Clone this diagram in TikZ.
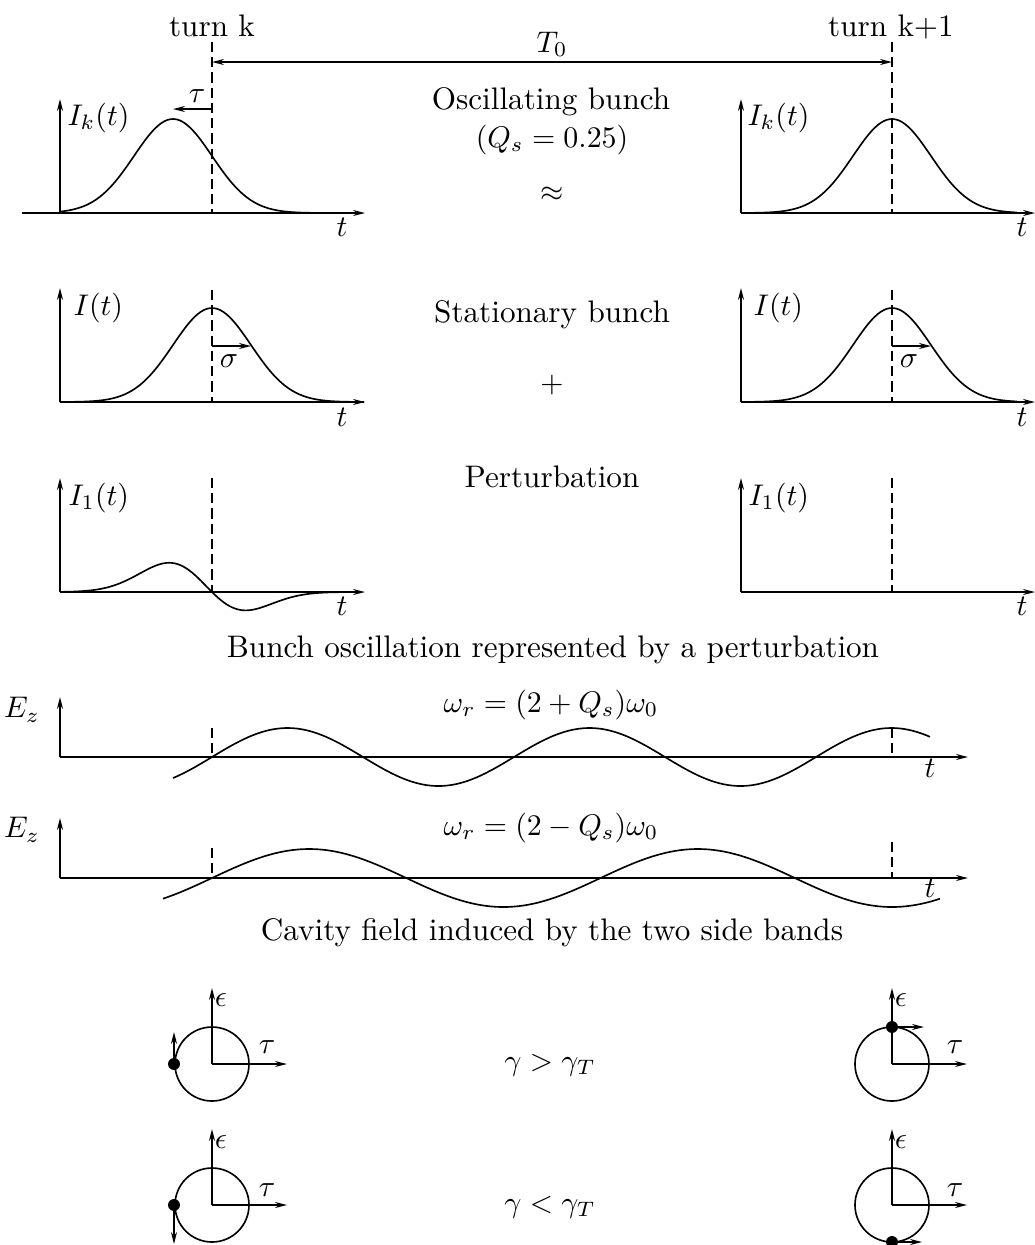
\documentclass[tikz,border=0pt]{standalone}
\usetikzlibrary{arrows.meta}
\begin{document}
\begin{tikzpicture}[x=0.335pt,y=-0.335pt,
  font=\fontsize{10.44}{12.5}\selectfont,
  >={Stealth[open,length=4pt,width=2pt]},
  axis/.style={line width=0.55pt,->},
  curve/.style={line width=0.55pt},
  guide/.style={line width=0.5pt,dash pattern=on 3.4pt off 1.7pt},
  lbl/.style={inner sep=0pt},
  westlbl/.style={inner sep=0pt,anchor=west},
  dot/.style={fill=black}]
\useasboundingbox (0,0) rectangle (1035,1245);

% ---------- titles row 1
\node[lbl,anchor=base] (turnk) at (212,36) {turn k};
\node[lbl,anchor=base] (turnk1) at (891,36) {turn k+1};
\coordinate (Ta) at (212,62);
\coordinate (Tb) at (892,62);
\draw[line width=0.5pt,<->] (Ta) -- (Tb);
\node[lbl,anchor=base] (T0) at (552,52) {$T_0$};
\node[lbl,anchor=base] (osc) at (551,109) {Oscillating bunch};
\node[lbl] (qs) at (552,140) {$(Q_s=0.25)$};
\node[lbl] (approx) at (552,194) {$\approx$};

% ---------- row 1 left
\coordinate (O1) at (60,213);
\draw[axis] (22,213) -- (365,213);
\draw[axis] (O1) -- (60,99);
\draw[guide] (212,42) -- (212,213);
\draw[curve] plot[domain=-2.9:4.1,samples=90,smooth] ({173+39*\x},{213-94*exp(-0.5*(\x)*(\x))});
\coordinate (tauA) at (212,109);
\coordinate (tauB) at (173,109);
\draw[line width=0.5pt,->] (tauA) -- (tauB);
\node[lbl] (tau1) at (197,96) {$\tau$};
\node[westlbl] (Ik1) at (67,118) {$I_k(t)$};
\node[lbl] (t1) at (342,227) {$t$};

% ---------- row 1 right
\coordinate (O2) at (741,213);
\draw[axis] (O2) -- (1035,213);
\draw[axis] (O2) -- (741,99);
\draw[guide] (892,42) -- (892,213);
\draw[curve] plot[domain=-3.87:3.2,samples=90,smooth] ({892+39*\x},{213-94*exp(-0.5*(\x)*(\x))});
\node[westlbl] (Ik2) at (747,118) {$I_k(t)$};
\node[lbl] (t2) at (1022,227) {$t$};

% ---------- row 2
\node[lbl,anchor=base] (stat) at (552,322) {Stationary bunch};
\node[lbl] (plus) at (552,385) {$+$};
\coordinate (O3) at (60,402);
\draw[axis] (O3) -- (365,402);
\draw[axis] (O3) -- (60,288);
\draw[guide] (212,290) -- (212,402);
\draw[curve] plot[domain=-3.9:3.9,samples=90,smooth] ({212+39*\x},{402-94*exp(-0.5*(\x)*(\x))});
\coordinate (sA) at (212,346);
\coordinate (sB) at (251,346);
\draw[line width=0.5pt,->] (sA) -- (sB);
\node[lbl] (sig1) at (229,361) {$\sigma$};
\node[westlbl] (I1) at (73,308) {$I(t)$};
\node[lbl] (t3) at (342,417) {$t$};

\coordinate (O4) at (741,402);
\draw[axis] (O4) -- (1035,402);
\draw[axis] (O4) -- (741,288);
\draw[guide] (892,290) -- (892,402);
\draw[curve] plot[domain=-3.87:3.2,samples=90,smooth] ({892+39*\x},{402-94*exp(-0.5*(\x)*(\x))});
\coordinate (sC) at (892,346);
\coordinate (sD) at (931,346);
\draw[line width=0.5pt,->] (sC) -- (sD);
\node[lbl] (sig2) at (909,361) {$\sigma$};
\node[westlbl] (I2) at (753,308) {$I(t)$};
\node[lbl] (t4) at (1022,417) {$t$};

% ---------- row 3
\node[lbl,anchor=base] (pert) at (552,487) {Perturbation};
\coordinate (O5) at (60,592);
\draw[axis] (O5) -- (365,592);
\draw[axis] (O5) -- (60,478);
\draw[guide] (212,478) -- (212,592);
\draw[curve] plot[domain=-3.9:3.4,samples=100,smooth] ({212+39*\x},{592-38.7*(-\x)*exp(-0.5*(\x)*(\x))*(1-0.234*\x)});
\node[westlbl] (I11) at (68,498) {$I_1(t)$};
\node[lbl] (t5) at (342,606) {$t$};

\coordinate (O6) at (741,592);
\draw[axis] (O6) -- (1035,592);
\draw[axis] (O6) -- (741,478);
\draw[guide] (892,478) -- (892,592);
\node[westlbl] (I12) at (748,498) {$I_1(t)$};
\node[lbl] (t6) at (1022,606) {$t$};

\node[lbl,anchor=base] (cap1) at (553,657) {Bunch oscillation represented by a perturbation};

% ---------- row 4 : E_z (2+Qs)
\coordinate (O7) at (60,757);
\draw[axis] (O7) -- (968,757);
\draw[axis] (O7) -- (60,697);
\draw[guide] (212,728) -- (212,757);
\draw[guide] (892,728) -- (892,757);
\draw[curve] plot[domain=173:930,samples=160,smooth] (\x,{757-29*sin(1.19205*(\x-212))});
\node[lbl] (Ez1) at (22,710) {$E_z$};
\node[lbl] (w1) at (551,705) {$\omega_r=(2+Q_s)\omega_0$};
\node[lbl] (t7) at (930,768) {$t$};

% ---------- row 5 : E_z (2-Qs)
\coordinate (O8) at (60,878);
\draw[axis] (O8) -- (968,878);
\draw[axis] (O8) -- (60,818);
\draw[guide] (212,848) -- (212,878);
\draw[guide] (892,842) -- (892,878);
\draw[curve] plot[domain=163:940,samples=160,smooth] (\x,{878-29*sin(0.92647*(\x-212))});
\node[lbl] (Ez2) at (22,830) {$E_z$};
\node[lbl] (w2) at (551,828) {$\omega_r=(2-Q_s)\omega_0$};
\node[lbl] (t8) at (930,888) {$t$};

\node[lbl,anchor=base] (cap2) at (552,940) {Cavity field induced by the two side bands};

% ---------- phase space circles
% gamma > gamma_T
\coordinate (C1) at (212,1064);
\draw[curve] (C1) circle[radius=37];
\draw[axis] (C1) -- (212,988);
\draw[axis] (C1) -- (287,1064);
\node[lbl] (e1) at (221,1000) {$\epsilon$};
\node[lbl] (ta1) at (267,1047) {$\tau$};
\node[dot,circle,inner sep=0pt,minimum size=4pt] (d1) at (174,1064) {};
\coordinate (d1e) at (174,1032);
\draw[line width=0.5pt,->] (d1.center) -- (d1e);

\coordinate (C2) at (892,1064);
\draw[curve] (C2) circle[radius=37];
\draw[axis] (C2) -- (892,988);
\draw[axis] (C2) -- (967,1064);
\node[lbl] (e2) at (901,1000) {$\epsilon$};
\node[lbl] (ta2) at (955,1047) {$\tau$};
\node[dot,circle,inner sep=0pt,minimum size=4pt] (d2) at (892,1027) {};
\coordinate (d2e) at (924,1027);
\draw[line width=0.5pt,->] (d2.center) -- (d2e);

\node[lbl] (g1) at (550,1065) {$\gamma>\gamma_T$};

% gamma < gamma_T
\coordinate (C3) at (212,1205);
\draw[curve] (C3) circle[radius=37];
\draw[axis] (C3) -- (212,1129);
\draw[axis] (C3) -- (287,1205);
\node[lbl] (e3) at (221,1142) {$\epsilon$};
\node[lbl] (ta3) at (267,1190) {$\tau$};
\node[dot,circle,inner sep=0pt,minimum size=4pt] (d3) at (174,1205) {};
\coordinate (d3e) at (174,1244);
\draw[line width=0.5pt,->] (d3.center) -- (d3e);

\coordinate (C4) at (892,1205);
\draw[curve] (C4) circle[radius=37];
\draw[axis] (C4) -- (892,1129);
\draw[axis] (C4) -- (967,1205);
\node[lbl] (e4) at (901,1142) {$\epsilon$};
\node[lbl] (ta4) at (955,1190) {$\tau$};
\node[dot,circle,inner sep=0pt,minimum size=4pt] (d4) at (892,1242) {};
\coordinate (d4e) at (922,1242);
\draw[line width=0.5pt,->] (d4.center) -- (d4e);

\node[lbl] (g2) at (550,1207) {$\gamma<\gamma_T$};
\end{tikzpicture}
\end{document}
